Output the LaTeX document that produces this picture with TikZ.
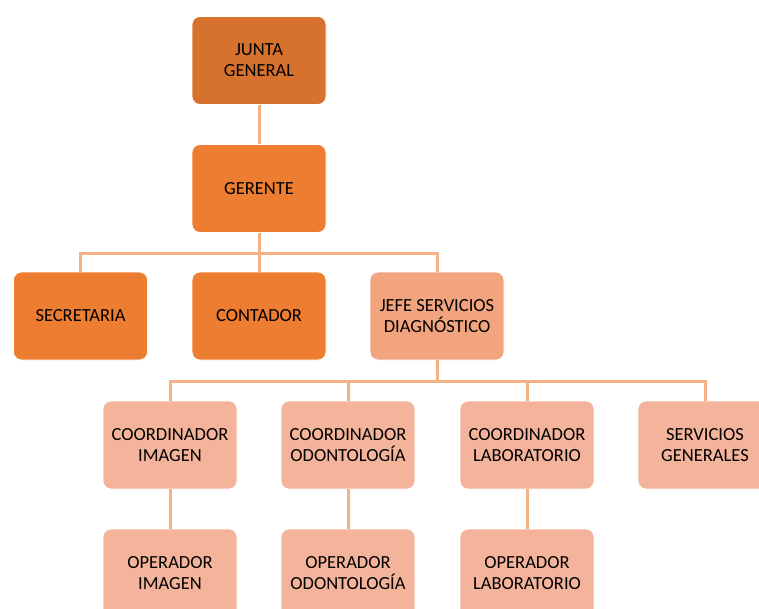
\documentclass[tikz,border=0pt]{standalone}
\usepackage{fontspec}
\setmainfont{Carlito}
\usepackage{tikz}
\usetikzlibrary{calc,positioning}
\definecolor{juntacol}{HTML}{D7712E}
\definecolor{maincol}{HTML}{ED7D31}
\definecolor{jefecol}{HTML}{F2A47F}
\definecolor{lowcol}{HTML}{F4B39B}
\definecolor{linkcol}{HTML}{F4B183}

\begin{document}
\begin{tikzpicture}[x=1pt,y=-1pt,
    box/.style={rectangle, rounded corners=8pt, draw=white, line width=0.8pt,
      minimum width=134pt, minimum height=88pt, align=center, inner sep=2pt,
      font=\fontsize{18.5}{21}\selectfont, text=black},
    link/.style={draw=linkcol, line width=3pt}]
  \useasboundingbox (0,0) rectangle (759,608);
  \clip (0,0) rectangle (759,608);
  % Top
  \node[box, fill=juntacol] (junta) at (259,60.5) {JUNTA\\GENERAL};
  \node[box, fill=maincol] (gerente) at (259,188.5) {GERENTE};
  % Second level
  \node[box, fill=maincol] (secretaria) at (80.5,316) {SECRETARIA};
  \node[box, fill=maincol] (contador) at (259,316) {CONTADOR};
  \node[box, fill=jefecol] (jefe) at (437,316) {JEFE SERVICIOS\\DIAGNÓSTICO};
  % Coordinators
  \node[box, fill=lowcol] (coordimg) at (170,445) {COORDINADOR\\IMAGEN};
  \node[box, fill=lowcol] (coordodo) at (348,445) {COORDINADOR\\ODONTOLOGÍA};
  \node[box, fill=lowcol] (coordlab) at (527,445) {COORDINADOR\\LABORATORIO};
  \node[box, fill=lowcol] (servgen) at (705,445) {SERVICIOS\\GENERALES};
  % Operators
  \node[box, fill=lowcol] (opimg) at (170,573) {OPERADOR\\IMAGEN};
  \node[box, fill=lowcol] (opodo) at (348,573) {OPERADOR\\ODONTOLOGÍA};
  \node[box, fill=lowcol] (oplab) at (527,573) {OPERADOR\\LABORATORIO};
  % Connectors
  \coordinate (bus1) at (259,253);
  \coordinate (bus2) at (437,381);
  \draw[link] (junta) -- (gerente);
  \draw[link] (gerente) -- (bus1);
  \draw[link] (secretaria.north) |- (bus1) -| (jefe.north);
  \draw[link] (contador) -- (bus1);
  \draw[link] (jefe) -- (bus2);
  \draw[link] (coordimg.north) |- (bus2) -| (servgen.north);
  \draw[link] (coordodo.north) -- (coordodo.north |- bus2);
  \draw[link] (coordlab.north) -- (coordlab.north |- bus2);
  \draw[link] (coordimg) -- (opimg);
  \draw[link] (coordodo) -- (opodo);
  \draw[link] (coordlab) -- (oplab);
\end{tikzpicture}
\end{document}
